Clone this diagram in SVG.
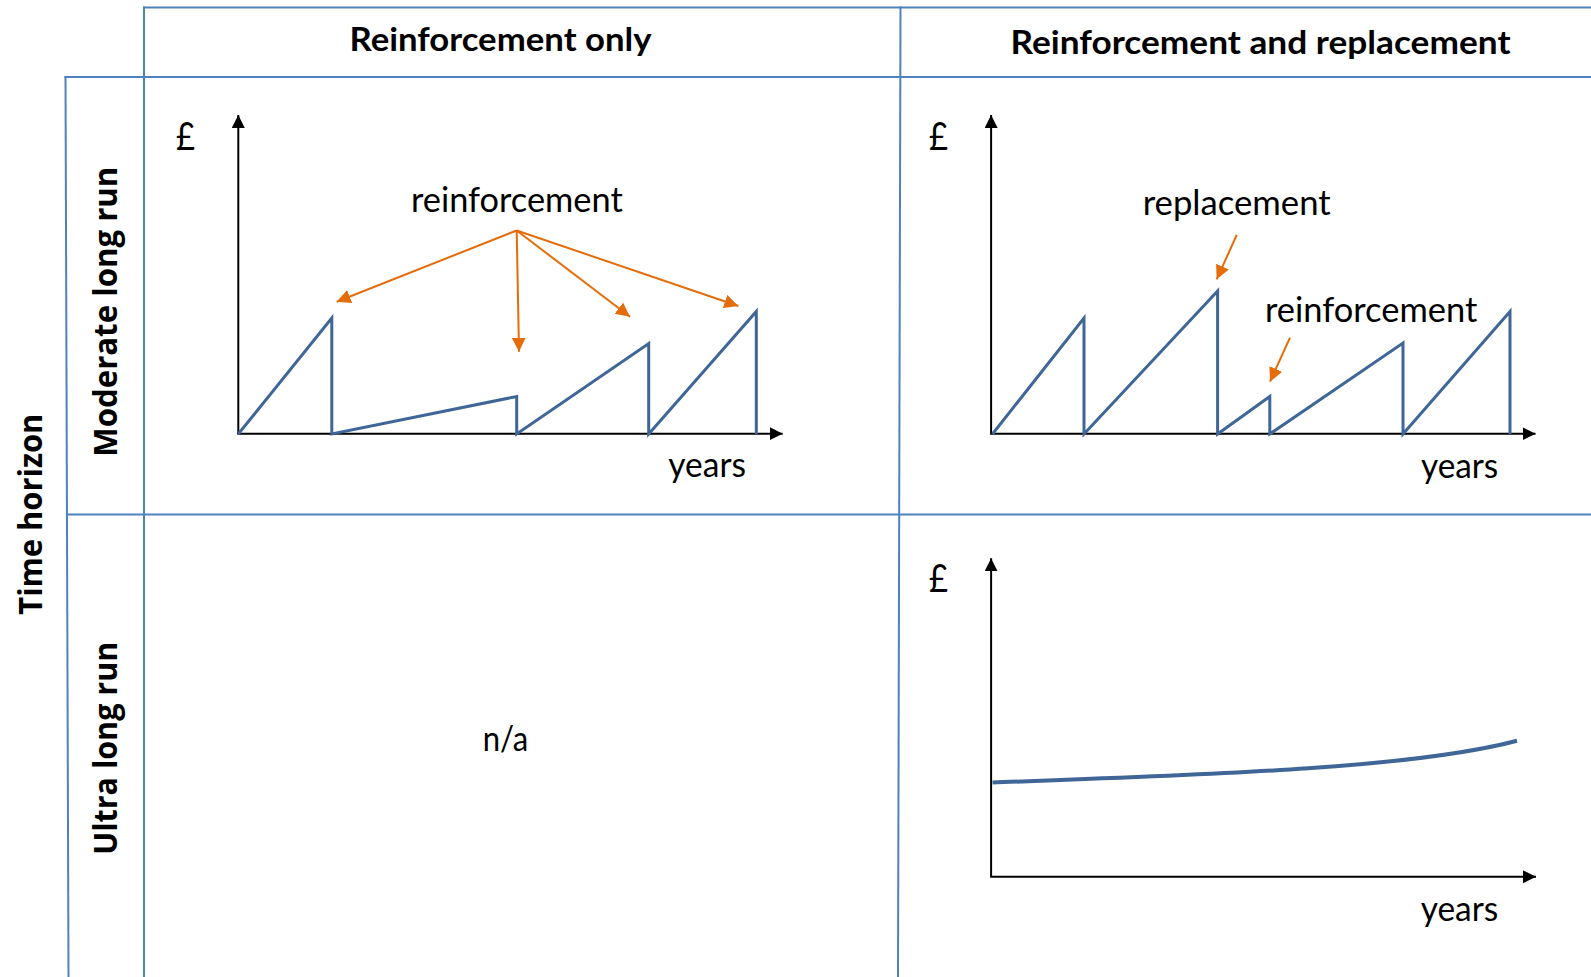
<svg xmlns="http://www.w3.org/2000/svg" width="1591" height="977" viewBox="0 0 1591 977">
<style>
.grid{stroke:#4F81BD;stroke-width:2;fill:none}
.axis{stroke:#000;stroke-width:2;fill:none}
.saw{stroke:#3F6696;stroke-width:3;fill:none;stroke-linejoin:miter;stroke-miterlimit:4}
.curve{stroke:#3F6696;stroke-width:4;fill:none;stroke-linecap:butt}
.orange{stroke:#E46C0A;stroke-width:2;fill:none}
.lbl{font-family:Lato,"Liberation Sans",sans-serif;font-size:34px;fill:#000}
.pound{font-family:Lato,"Liberation Sans",sans-serif;font-size:38px;fill:#000}
.hdr{font-family:Lato,"Liberation Sans",sans-serif;font-size:32.5px;font-weight:bold;fill:#000}
.vlbl{font-family:"Open Sans","DejaVu Sans",sans-serif;font-size:31.5px;font-weight:bold;fill:#000;text-anchor:middle}
</style>
<defs>
<marker id="ax" markerUnits="userSpaceOnUse" markerWidth="14" markerHeight="14" refX="13" refY="6.5" orient="auto" viewBox="0 0 14 14">
<path d="M0,0 L13,6.5 L0,13 z" fill="#000"/>
</marker>
<marker id="or" markerUnits="userSpaceOnUse" markerWidth="15" markerHeight="15" refX="14" refY="7" orient="auto" viewBox="0 0 15 15">
<path d="M0,0 L14,7 L0,14 z" fill="#E46C0A"/>
</marker>
</defs>
<rect width="1591" height="977" fill="#fff"/>

<g id="grid">
<line class="grid" x1="143" y1="7.5" x2="1591" y2="7.5"/>
<line class="grid" x1="64.5" y1="77" x2="1591" y2="77"/>
<line class="grid" x1="66" y1="514.5" x2="1591" y2="514.5"/>
<line class="grid" x1="65.5" y1="76" x2="68.5" y2="977"/>
<line class="grid" x1="144" y1="6.5" x2="144" y2="977"/>
<line class="grid" x1="900.5" y1="6.5" x2="898" y2="977"/>
</g>

<g id="header-reinforcement-only">
<text class="hdr" x="349.5" y="51" textLength="302" lengthAdjust="spacingAndGlyphs">Reinforcement only</text>
</g>
<g id="header-reinforcement-and-replacement">
<text class="hdr" x="1010.5" y="53.5" textLength="500" lengthAdjust="spacingAndGlyphs">Reinforcement and replacement</text>
</g>

<g id="label-time-horizon">
<text class="vlbl" transform="translate(41.5,514.2) rotate(-90)" textLength="201" lengthAdjust="spacingAndGlyphs">Time horizon</text>
</g>
<g id="label-moderate-long-run">
<text class="vlbl" transform="translate(117,311.7) rotate(-90)" textLength="290" lengthAdjust="spacingAndGlyphs">Moderate long run</text>
</g>
<g id="label-ultra-long-run">
<text class="vlbl" transform="translate(117.3,748.3) rotate(-90)" textLength="213" lengthAdjust="spacingAndGlyphs">Ultra long run</text>
</g>

<g id="chart-reinforcement-only">
<text class="pound" x="176" y="150" textLength="19" lengthAdjust="spacingAndGlyphs">£</text>
<line class="axis" x1="238.3" y1="434" x2="238.3" y2="115" marker-end="url(#ax)"/>
<line class="axis" x1="237.3" y1="433.7" x2="782.7" y2="433.7" marker-end="url(#ax)"/>
<path class="saw" d="M238.3,434 L331.8,318 L331.8,434 L516.7,396.5 L516.7,434 L648.7,343.5 L648.7,434 L756.3,311.5 L756.3,434"/>
<text class="lbl" x="411" y="211.7" textLength="211.7" lengthAdjust="spacingAndGlyphs">reinforcement</text>
<text class="lbl" x="668.3" y="477" textLength="77.7" lengthAdjust="spacingAndGlyphs">years</text>
</g>

<g id="chart-reinforcement-and-replacement">
<text class="pound" x="929" y="150" textLength="19" lengthAdjust="spacingAndGlyphs">£</text>
<line class="axis" x1="991.1" y1="434" x2="991.1" y2="115" marker-end="url(#ax)"/>
<line class="axis" x1="990.1" y1="433.7" x2="1535.5" y2="433.7" marker-end="url(#ax)"/>
<path class="saw" d="M992.5,434 L1084,318 L1084,434 L1217.6,291 L1217.6,434 L1269.8,396.5 L1269.8,434 L1403,343 L1403,434 L1510,311.5 L1510,434"/>
<text class="lbl" x="1142.7" y="215" textLength="188" lengthAdjust="spacingAndGlyphs">replacement</text>
<text class="lbl" x="1265" y="321.7" textLength="212.3" lengthAdjust="spacingAndGlyphs">reinforcement</text>
<text class="lbl" x="1421" y="477.5" textLength="77.3" lengthAdjust="spacingAndGlyphs">years</text>
</g>

<g id="cell-na">
<text class="lbl" x="482.7" y="751" textLength="45.6" lengthAdjust="spacingAndGlyphs">n/a</text>
</g>

<g id="chart-ultra-long-run">
<text class="pound" x="929" y="591.7" textLength="19" lengthAdjust="spacingAndGlyphs">£</text>
<line class="axis" x1="991.1" y1="877" x2="991.1" y2="558.3" marker-end="url(#ax)"/>
<line class="axis" x1="990.1" y1="876.7" x2="1536" y2="876.7" marker-end="url(#ax)"/>
<path class="curve" d="M992.5,782.5 C1200,775 1410,769 1517,740.7"/>
<text class="lbl" x="1420.7" y="920.5" textLength="77.6" lengthAdjust="spacingAndGlyphs">years</text>
</g>

<g id="connectors">
<line class="orange" x1="516.7" y1="230.5" x2="336.7" y2="301.7" marker-end="url(#or)"/>
<line class="orange" x1="516.7" y1="230.5" x2="519" y2="351.7" marker-end="url(#or)"/>
<line class="orange" x1="516.7" y1="230.5" x2="630" y2="316.7" marker-end="url(#or)"/>
<line class="orange" x1="516.7" y1="230.5" x2="738.3" y2="306" marker-end="url(#or)"/>
<line class="orange" x1="1236.7" y1="235" x2="1216.7" y2="279.3" marker-end="url(#or)"/>
<line class="orange" x1="1290" y1="337.7" x2="1270" y2="381.7" marker-end="url(#or)"/>
</g>
</svg>
